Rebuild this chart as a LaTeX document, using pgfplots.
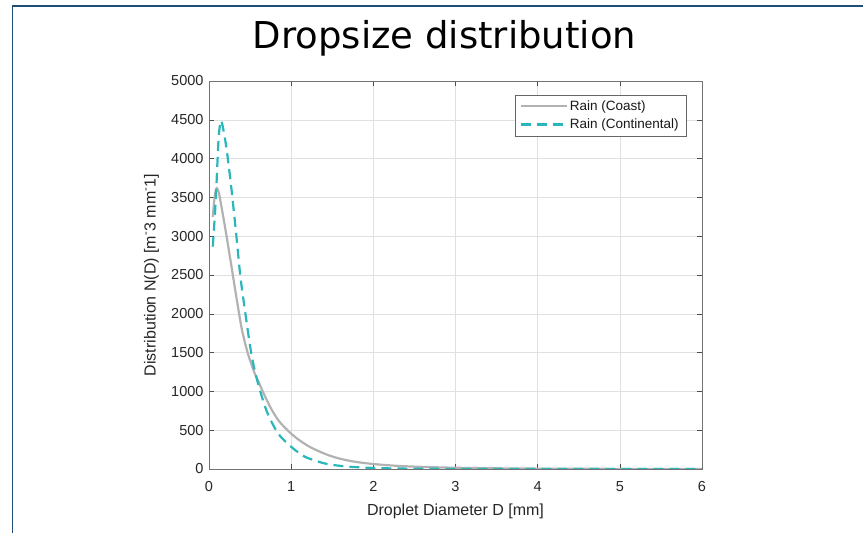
\documentclass[border=0pt]{standalone}
\usepackage{fontspec}
\setmainfont{Liberation Sans}
\newfontfamily\titlefont{DejaVu Sans}
\usepackage{pgfplots}
\pgfplotsset{compat=1.18}
\definecolor{frameblue}{RGB}{31,78,121}
\definecolor{coast}{RGB}{178,178,178}
\definecolor{cont}{RGB}{42,182,187}
\begin{document}
\begin{tikzpicture}[x=1pt,y=1pt]
\useasboundingbox (0,0) rectangle (863,533);
\draw[frameblue, line width=1.6pt] (12.5,-5) -- (12.5,527) -- (870,527);
\node[font=\titlefont\fontsize{37}{44}\selectfont, anchor=base] at (444.5,484) {Dropsize distribution};
\begin{axis}[
  at={(209pt,64pt)}, anchor=south west,
  scale only axis, width=493pt, height=388pt,
  xmin=0, xmax=6, ymin=0, ymax=5000,
  xtick={0,1,2,3,4,5,6}, ytick={0,500,...,5000},
  grid=major, grid style={black!12, line width=0.6pt},
  tick align=inside, major tick length=5pt,
  axis line style={black!55, line width=0.8pt},
  tick style={black!70, line width=0.6pt},
  ticklabel style={font=\fontsize{14.5}{16}\selectfont, text=black!85},
  xticklabel style={yshift=-9pt},
  yticklabel style={xshift=-2pt},
  /pgf/number format/assume math mode=true,
  /pgf/number format/1000 sep={},
  xlabel={Droplet Diameter D [mm]},
  ylabel={Distribution N(D) [m\textsuperscript{-}3 mm\textsuperscript{-}1]},
  label style={font=\fontsize{16}{19}\selectfont, text=black!85},
  xlabel style={at={(axis description cs:0.5,-0.1186)}, anchor=base},
  ylabel style={at={(axis description cs:-0.1085,0.5)}, anchor=base},
  legend style={at={(0.9675,0.964)}, anchor=north east, draw=black!60,
    font=\fontsize{13.5}{16}\selectfont, text=black!90, inner xsep=5pt, inner ysep=3.5pt, row sep=3pt},
  legend cell align=left,
  legend image code/.code={\draw[#1] (0pt,0pt) -- (46pt,0pt);},
]
\addplot[coast, line width=2.2pt, smooth] coordinates {
(0.046,3250) (0.07,3520) (0.095,3617) (0.12,3560) (0.15,3390) (0.19,3150)
(0.24,2830) (0.29,2500) (0.34,2170) (0.40,1800) (0.47,1500) (0.55,1250)
(0.60,1130) (0.68,940) (0.76,770) (0.85,620) (0.95,505) (1.05,411)
(1.15,334) (1.25,272) (1.40,200) (1.55,145) (1.75,98) (2.00,64) (2.30,40)
(2.60,27) (3.00,16) (3.50,9) (4.00,5) (5.00,1.5) (6.00,0.5)};
\addlegendentry{Rain (Coast)}
\addplot[cont, line width=2.2pt, dash pattern=on 10pt off 6pt, smooth] coordinates {
(0.046,2865) (0.07,3250) (0.088,3600) (0.116,4240) (0.14,4476) (0.16,4450)
(0.21,4153) (0.27,3638) (0.33,3037) (0.38,2500) (0.43,2100) (0.51,1520)
(0.575,1189) (0.697,760) (0.84,460) (1.00,287) (1.165,159) (1.37,82)
(1.51,52) (1.70,30) (1.92,17) (2.20,8) (2.50,4) (3.00,1) (4.00,0.2) (6.00,0)};
\addlegendentry{Rain (Continental)}
\end{axis}
\end{tikzpicture}
\end{document}
